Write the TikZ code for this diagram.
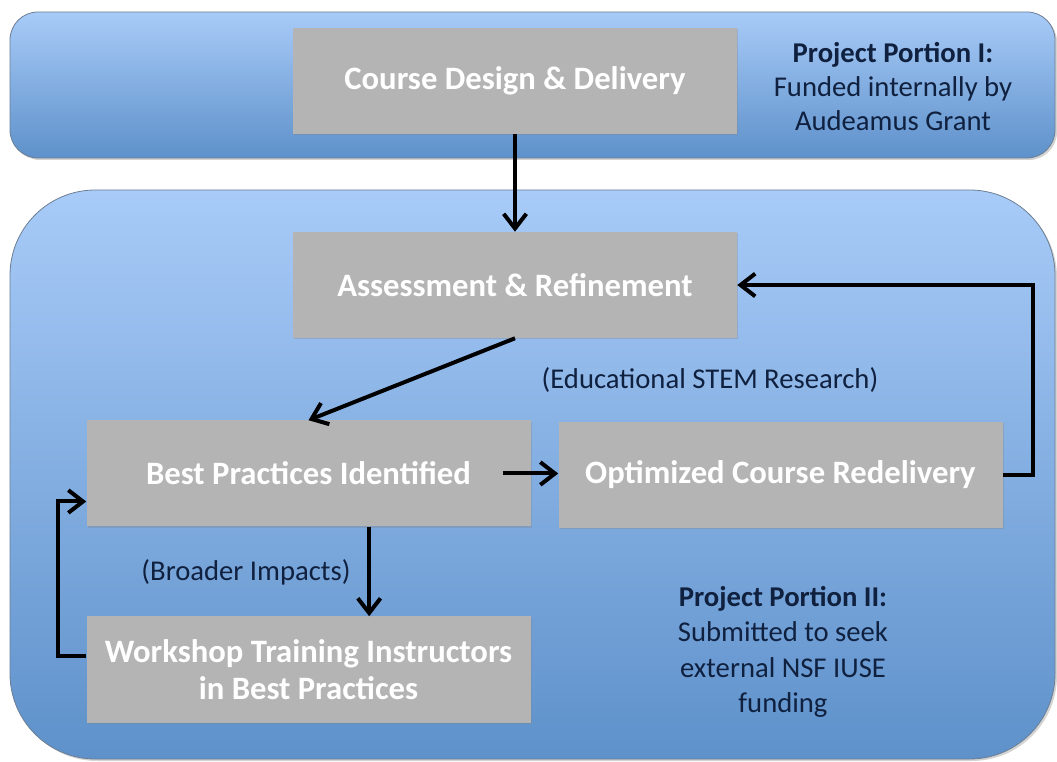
\documentclass[tikz,border=0pt]{standalone}
\usepackage{fontspec}
\setmainfont{Carlito}
\usetikzlibrary{positioning}
\usetikzlibrary{shadows}
\usetikzlibrary{arrows.meta}
\definecolor{paneltop}{HTML}{A8CBF8}
\definecolor{panelbot}{HTML}{5E91CA}
\definecolor{paneledge}{HTML}{6C7E94}
\definecolor{boxgray}{HTML}{B4B4B4}
\definecolor{labelnavy}{HTML}{10203F}

\begin{document}
\begin{tikzpicture}[x=0.75pt, y=-0.75pt,
    panel/.style={draw=paneledge, line width=0.6pt, top color=paneltop, bottom color=panelbot,
        drop shadow={shadow xshift=1.5pt, shadow yshift=-1.5pt, opacity=0.35}},
    stage/.style={fill=boxgray, minimum width=333pt, minimum height=79.5pt, inner sep=0pt,
        align=center, text=white, font=\fontsize{24.5}{28}\selectfont\bfseries,
        drop shadow={shadow xshift=1pt, shadow yshift=-1pt, opacity=0.3}},
    note/.style={align=center, text=labelnavy, font=\fontsize{21.5}{25.5}\selectfont},
    flow/.style={line width=3pt, -{Straight Barb[length=11pt, width=17pt]}}]
    \useasboundingbox (0,0) rectangle (1057,762);
    \draw[panel, rounded corners=21pt] (10,12) rectangle (1055,158);
    \draw[panel, rounded corners=64pt] (10,190) rectangle (1055,759);

    \node[stage] (course) at (515,81) {Course Design \& Delivery};
    \node[stage] (assess) at (515,285) {Assessment \& Refinement};
    \node[stage] (best) at (308.5,473.5) {Best Practices Identified};
    \node[stage] (optim) at (780.5,475) {Optimized Course Redelivery};
    \node[stage] (workshop) at (308.5,669.5) {Workshop Training Instructors\\in Best Practices};

    \node[note] (portionI) at (893,87) {\textbf{Project Portion I:}\\Funded internally by\\Audeamus Grant};
    \node[note, font=\fontsize{21.5}{26.5}\selectfont] (portionII) at (783,652) {\textbf{Project Portion II:}\\Submitted to seek\\external NSF IUSE\\funding};
    \node[note] (stem) at (710,380) {(Educational STEM Research)};
    \node[note] (broader) at (246,572) {(Broader Impacts)};

    \draw[flow] (course) -- (assess);
    \draw[flow] (assess.south) -- (best.north);
    \draw[flow] ([xshift=-21pt]best.east) -- (optim.west |- best.east);
    \draw[flow] (optim.east) -- ++(30,0) |- (assess.east);
    \draw[flow] ([xshift=45.5pt]best.south) -- ([xshift=45.5pt]best.south |- workshop.north);
    \draw[flow] ([yshift=10pt]workshop.west) -- ++(-28,0) |- ([yshift=-21pt]best.west);
\end{tikzpicture}
\end{document}
